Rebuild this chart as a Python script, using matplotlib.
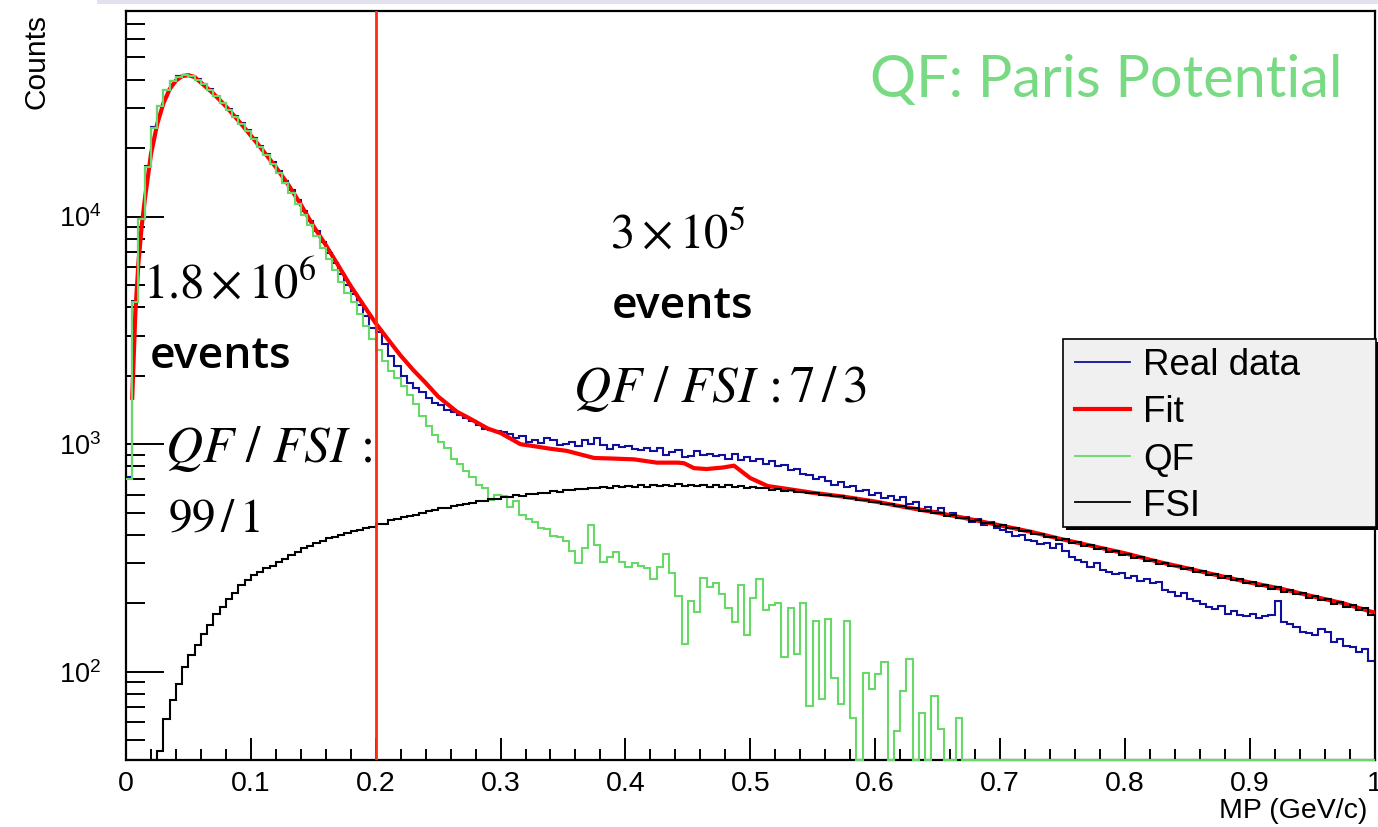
import numpy as np
import matplotlib
matplotlib.use("Agg")
import matplotlib.pyplot as plt
from matplotlib.lines import Line2D
from matplotlib.patches import Rectangle
from matplotlib.ticker import (FixedLocator, FixedFormatter, LogLocator,
                               MultipleLocator, NullFormatter)

plt.rcParams['font.family'] = ['Liberation Sans', 'DejaVu Sans']
plt.rcParams['mathtext.fontset'] = 'custom'
plt.rcParams['mathtext.rm'] = 'Liberation Sans'
plt.rcParams['mathtext.it'] = 'Liberation Sans:italic'
plt.rcParams['mathtext.bf'] = 'Liberation Sans:bold'

# ---------------------------------------------------------------- data
# missing momentum histograms, 200 bins between 0 and 1 GeV/c
mp_edges = np.linspace(0.0, 1.0, 201)

real_counts = [
    720, 4250, 9900, 16600, 24700, 30600, 35900, 39400, 41300, 42000,
    41600, 40200, 38400, 36200, 33900, 31700, 29700, 27700, 25800, 24000,
    22200, 20500, 18900, 17300, 15800, 14400, 13100, 11800, 10600, 9600,
    8650, 7750, 6950, 6250, 5600, 5000, 4550, 4100, 3650, 3250,
    3100, 2750, 2450, 2200, 2000, 1850, 1760, 1700, 1600, 1520,
    1480, 1420, 1380, 1340, 1300, 1270, 1210, 1170, 1150, 1140,
    1130, 1110, 1060, 1090, 1020, 1040, 1010, 1060, 1040, 990,
    1000, 1020, 985, 1040, 1000, 1070, 990, 950, 990, 970,
    985, 950, 940, 960, 930, 960, 900, 920, 940, 880,
    890, 930, 900, 910, 890, 900, 860, 910, 850, 880,
    845, 860, 820, 840, 800, 810, 770, 780, 740, 735,
    700, 715, 690, 660, 680, 650, 655, 620, 630, 600,
    610, 580, 595, 570, 585, 545, 560, 520, 530, 510,
    525, 490, 500, 475, 480, 455, 470, 440, 455, 430,
    420, 410, 395, 400, 380, 375, 365, 370, 350, 365,
    340, 320, 310, 305, 290, 300, 280, 275, 268, 272,
    258, 265, 250, 255, 245, 248, 230, 225, 215, 222,
    208, 205, 198, 192, 188, 195, 180, 185, 178, 176,
    180, 172, 176, 178, 205, 165, 162, 158, 150, 148,
    145, 155, 150, 135, 140, 130, 128, 122, 126, 112,
]

qf_counts = [
    700, 4200, 9800, 16500, 24500, 30500, 35800, 39300, 41200, 41900,
    41400, 40000, 38200, 36000, 33700, 31500, 29500, 27500, 25600, 23700,
    21900, 20200, 18600, 17000, 15500, 14000, 12700, 11400, 10200, 9200,
    8200, 7300, 6500, 5800, 5150, 4600, 4200, 3750, 3300, 2900,
    2600, 2330, 2100, 1950, 1800, 1650, 1500, 1330, 1200, 1100,
    1020, 960, 860, 820, 760, 720, 660, 640, 570, 600,
    590, 530, 565, 490, 470, 455, 430, 425, 395, 390,
    375, 340, 300, 350, 440, 360, 305, 320, 335, 305,
    290, 300, 292, 285, 256, 290, 330, 272, 216, 133,
    205, 184, 259, 235, 245, 220, 190, 165, 240, 145,
    211, 256, 187, 196, 200, 116, 190, 120, 200, 71,
    168, 76, 171, 94, 72, 168, 63, 0, 99, 84,
    98, 110, 0, 55, 82, 114, 0, 66, 0, 78,
    56, 0, 0, 63, 0, 0, 0, 0, 0, 0,
    0, 0, 0, 0, 0, 0, 0, 0, 0, 0,
    0, 0, 0, 0, 0, 0, 0, 0, 0, 0,
    0, 0, 0, 0, 0, 0, 0, 0, 0, 0,
    0, 0, 0, 0, 0, 0, 0, 0, 0, 0,
    0, 0, 0, 0, 0, 0, 0, 0, 0, 0,
    0, 0, 0, 0, 0, 0, 0, 0, 0, 0,
]

fsi_counts = [
    0, 0, 0, 0, 0, 45, 62, 75, 88, 105,
    118, 131, 146, 161, 179, 193, 209, 222, 241, 252,
    266, 275, 287, 293, 304, 312, 327, 335, 351, 357,
    368, 377, 386, 392, 401, 407, 417, 421, 429, 434,
    444, 447, 464, 467, 481, 482, 489, 501, 511, 516,
    525, 526, 536, 541, 547, 553, 561, 564, 573, 577,
    584, 585, 597, 594, 604, 604, 611, 612, 620, 618,
    631, 628, 637, 637, 645, 640, 649, 645, 653, 646,
    657, 650, 661, 652, 662, 656, 665, 656, 667, 657,
    664, 654, 663, 652, 661, 650, 659, 647, 655, 645,
    648, 639, 643, 632, 635, 625, 629, 617, 619, 609,
    611, 600, 601, 591, 593, 581, 583, 571, 571, 559,
    559, 548, 548, 536, 537, 523, 524, 511, 511, 499,
    500, 486, 487, 474, 475, 462, 463, 450, 451, 439,
    440, 427, 427, 415, 416, 403, 404, 392, 393, 381,
    382, 369, 371, 358, 360, 347, 350, 337, 340, 327,
    329, 317, 320, 308, 311, 299, 302, 291, 293, 283,
    285, 274, 277, 267, 270, 259, 263, 252, 256, 245,
    248, 238, 241, 232, 237, 225, 229, 219, 222, 212,
    215, 206, 209, 199, 203, 193, 197, 187, 191, 178,
]

fit_mp = [0.005, 0.0075, 0.01, 0.0125, 0.015, 0.02, 0.025, 0.03, 0.035, 0.04,
          0.045, 0.05, 0.055, 0.06, 0.07, 0.08, 0.09, 0.10, 0.11, 0.12,
          0.13, 0.14, 0.15, 0.16, 0.17, 0.18, 0.19, 0.20, 0.21, 0.22,
          0.23, 0.24, 0.25, 0.265, 0.275, 0.29, 0.30, 0.316, 0.327, 0.34,
          0.353, 0.375, 0.39, 0.407, 0.425, 0.442, 0.447, 0.455, 0.465, 0.478,
          0.487, 0.50, 0.514, 0.53, 0.55, 0.575, 0.60, 0.625, 0.65, 0.675,
          0.70, 0.725, 0.75, 0.775, 0.80, 0.825, 0.85, 0.875, 0.90, 0.925,
          0.95, 0.975, 1.0]
fit_counts = [1600, 3800, 6300, 9000, 11800, 18800, 25500, 31500, 36300, 39600,
              41400, 41800, 41000, 38800, 34700, 30500, 26400, 22700, 19400, 16500,
              13800, 11300, 9100, 7500, 6100, 4950, 4100, 3400, 2880, 2450,
              2120, 1860, 1620, 1390, 1300, 1170, 1120, 1000, 980, 955,
              935, 870, 865, 858, 830, 830, 825, 785, 778, 790,
              805, 710, 655, 636, 612, 588, 560, 528, 500, 470,
              440, 412, 382, 356, 332, 306, 285, 265, 247, 232,
              215, 200, 182]

series_labels = ["Real data", "Fit", "QF", "FSI"]
x_ticks = [0.0, 0.1, 0.2, 0.3, 0.4, 0.5, 0.6, 0.7, 0.8, 0.9, 1.0]
x_tick_labels = ["0", "0.1", "0.2", "0.3", "0.4", "0.5", "0.6", "0.7", "0.8", "0.9", "1"]
y_ticks = [1e2, 1e3, 1e4]
y_tick_labels = [r"$10^{2}$", r"$10^{3}$", r"$10^{4}$"]
mp_cut = 0.2

# ---------------------------------------------------------------- figure
W, H = 1378, 827
fig = plt.figure(figsize=(W / 100, H / 100), dpi=100)
fig.patch.set_facecolor('white')


def fx(px):
    return px / W


def fy(py):
    return 1.0 - py / H


# thin slide strip along the top edge
fig.add_artist(Rectangle((fx(97), fy(4)), (W - 97) / W, 4 / H,
                         transform=fig.transFigure, facecolor='#e2e2ee',
                         edgecolor='none', zorder=0))

ax = fig.add_axes([fx(126), fy(760), (1374.5 - 126) / W, (760 - 11) / H])
ax.set_yscale('log')
y_lo, y_hi = 41, 8e4
ax.set_xlim(0, 1)
ax.set_ylim(y_lo, y_hi)

c_real = '#10109c'
c_fit = '#ff0000'
c_qf = '#66d966'
c_fsi = '#000000'
lw_h = 1.5

ax.stairs(np.maximum(real_counts, y_lo), mp_edges, baseline=None,
          color=c_real, lw=lw_h, zorder=2)
ax.plot(fit_mp, fit_counts, color=c_fit, lw=3.0, zorder=3,
        solid_joinstyle='round')
ax.stairs(np.maximum(qf_counts, y_lo), mp_edges, baseline=None,
          color=c_qf, lw=lw_h, zorder=4, clip_on=False)
ax.stairs(np.maximum(fsi_counts, y_lo), mp_edges, baseline=None,
          color=c_fsi, lw=lw_h, zorder=5)
ax.axvline(mp_cut, color='#ff2a10', lw=2.0, zorder=6)

for sp in ax.spines.values():
    sp.set_linewidth(1.6)

ax.xaxis.set_major_locator(FixedLocator(x_ticks))
ax.xaxis.set_major_formatter(FixedFormatter(x_tick_labels))
ax.xaxis.set_minor_locator(MultipleLocator(0.02))
ax.yaxis.set_major_locator(FixedLocator(y_ticks))
ax.yaxis.set_major_formatter(FixedFormatter(y_tick_labels))
ax.yaxis.set_minor_locator(LogLocator(base=10, subs=np.arange(2, 10)))
ax.yaxis.set_minor_formatter(NullFormatter())

ax.tick_params(axis='x', which='major', direction='in', length=16, width=1.4,
               labelsize=20.5, pad=8, top=False)
ax.tick_params(axis='x', which='minor', direction='in', length=8, width=1.4,
               top=False)
ax.tick_params(axis='y', which='major', direction='in', length=27, width=1.4,
               labelsize=19.5, pad=18, right=False)
ax.tick_params(axis='y', which='minor', direction='in', length=14, width=1.4,
               right=False)

fig.text(fx(36), fy(14), "Counts", rotation=90, ha='center', va='top',
         fontsize=21.5)
fig.text(fx(1367), fy(798), "MP (GeV/c)", ha='right', va='top', fontsize=20.5)

# title-like label of the QF model
fig.text(fx(870), fy(97), "QF: Paris Potential", ha='left', va='baseline',
         fontsize=41.5, color='#78da83', family=['Lato', 'DejaVu Sans'])

# event counts and QF/FSI ratios on both sides of the cut
serif_kw = dict(math_fontfamily='stix', va='baseline', ha='left')
fig.text(fx(143), fy(298), r"$1.8\times10^{6}$", fontsize=35, **serif_kw)
fig.text(fx(150), fy(368), "events", fontsize=32, va='baseline', ha='left',
         family=['Open Sans', 'DejaVu Sans'], weight='semibold')
fig.text(fx(165), fy(462), r"$QF\ /\ FSI\,:$", fontsize=37, **serif_kw)
fig.text(fx(168), fy(532), r"$99\,/\,1$", fontsize=34, **serif_kw)

fig.text(fx(610), fy(248), r"$3\times10^{5}$", fontsize=35, **serif_kw)
fig.text(fx(612), fy(318), "events", fontsize=32, va='baseline', ha='left',
         family=['Open Sans', 'DejaVu Sans'], weight='semibold')
fig.text(fx(573), fy(402), r"$QF\ /\ FSI\,:7\,/\,3$", fontsize=37, **serif_kw)

# legend box with shadow
lg_x0, lg_y0, lg_x1, lg_y1 = 1063, 339, 1376, 527
fig.add_artist(Rectangle((fx(lg_x0 + 3), fy(lg_y1 + 3)),
                         (lg_x1 - lg_x0) / W, (lg_y1 - lg_y0) / H,
                         transform=fig.transFigure, facecolor='black',
                         edgecolor='none', zorder=10))
fig.add_artist(Rectangle((fx(lg_x0), fy(lg_y1)),
                         (lg_x1 - lg_x0) / W, (lg_y1 - lg_y0) / H,
                         transform=fig.transFigure, facecolor='#f0f0f0',
                         edgecolor='black', lw=1.2, zorder=11))
entry_styles = [(c_real, 1.3), (c_fit, 3.0), (c_qf, 1.3), (c_fsi, 1.3)]
entry_rows = [362, 409, 456, 502]
for label, (col, lw), row in zip(series_labels, entry_styles, entry_rows):
    fig.add_artist(Line2D([fx(1075), fx(1130)], [fy(row), fy(row)],
                          transform=fig.transFigure, color=col, lw=lw,
                          zorder=12))
    fig.text(fx(1143), fy(row), label, ha='left', va='center_baseline',
             fontsize=26.5, zorder=12)

fig.savefig("out.png", dpi=100)
